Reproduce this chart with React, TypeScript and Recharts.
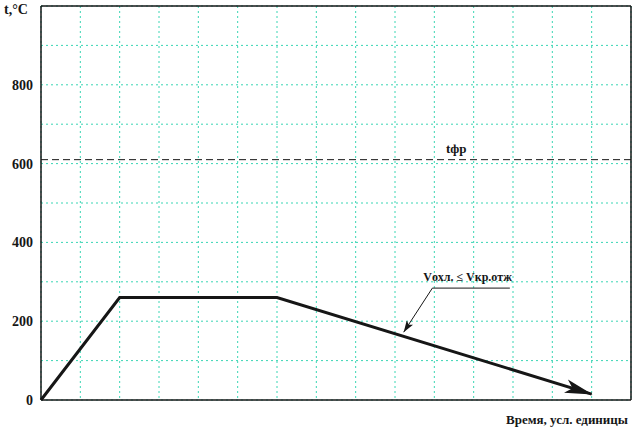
import React from "react";
import {
  LineChart,
  Line,
  XAxis,
  YAxis,
  CartesianGrid,
  ReferenceLine,
} from "recharts";

// режим отжига: время (усл. ед.) и температура, °C
const times = [0, 2, 6, 14];
const temps = [0, 260, 260, 15];
const xTicks = [0, 1, 2, 3, 4, 5, 6, 7, 8, 9, 10, 11, 12, 13, 14, 15];
const yTicks = [0, 100, 200, 300, 400, 500, 600, 700, 800, 900, 1000];
const yLabels = [0, 200, 400, 600, 800];
const tfr = 610;
// указатель к надписи «Vохл. ≤ Vкр.отж»
const pointerFrom = { x: 9.95, y: 284 };
const pointerTo = { x: 9.22, y: 172 };
const underlineEnd = { x: 11.92, y: 284 };

const data = times.map((t, i) => ({ t, temp: temps[i] }));

const INK = "#161616";
const GRID = "#3ad6b4";
const FONT = "Liberation Serif";

export default function App() {
  return (
    <div style={{ position: "absolute", left: 0, top: 0, fontFamily: FONT }}>
      <svg width={0} height={0} style={{ position: "absolute" }}>
        <defs>
          <marker
            id="bigArrow"
            markerUnits="userSpaceOnUse"
            markerWidth={28}
            markerHeight={16}
            viewBox="0 0 28 16"
            refX={27}
            refY={8}
            orient="auto"
          >
            <path d="M0,1 L28,8 L0,15 L7,8 z" fill={INK} />
          </marker>
          <marker
            id="smallArrow"
            markerUnits="userSpaceOnUse"
            markerWidth={12}
            markerHeight={8}
            viewBox="0 0 12 8"
            refX={12}
            refY={4}
            orient="auto"
          >
            <path d="M0,0 L12,4 L0,8 L3,4 z" fill={INK} />
          </marker>
        </defs>
      </svg>
      <LineChart
        width={633}
        height={427}
        data={data}
        margin={{ top: 6, right: 2, left: 0, bottom: 0 }}
        style={{ fontFamily: FONT }}
      >
        <CartesianGrid
          stroke={GRID}
          strokeDasharray="2 3"
          verticalValues={xTicks}
          horizontalValues={yTicks}
        />
        <XAxis
          dataKey="t"
          type="number"
          domain={[0, 15]}
          ticks={xTicks}
          tick={() => null}
          tickLine={false}
          height={27}
          axisLine={{ stroke: INK, strokeWidth: 1.5 }}
          label={{
            value: "Время, усл. единицы",
            position: "insideBottomRight",
            offset: 3,
            fill: INK,
            fontFamily: FONT,
            fontWeight: "bold",
            fontSize: 13,
          }}
        />
        <YAxis
          type="number"
          domain={[0, 1000]}
          ticks={yTicks}
          width={41}
          tickLine={false}
          axisLine={{ stroke: INK, strokeWidth: 1.5 }}
          tick={{ fill: INK, fontFamily: FONT, fontWeight: "bold", fontSize: 14 }}
          tickFormatter={(v) => (yLabels.includes(v) ? String(v) : "")}
          label={{
            value: "t,°C",
            position: "insideTopLeft",
            content: () => (
              <text x={4} y={14} fill={INK} fontFamily={FONT} fontWeight="bold" fontSize={14}>
                t,°C
              </text>
            ),
          }}
        />
        <ReferenceLine y={1000} stroke={INK} strokeWidth={1.5} />
        <ReferenceLine x={15} stroke={INK} strokeWidth={1.5} />
        <ReferenceLine
          y={tfr}
          stroke={INK}
          strokeWidth={1}
          strokeDasharray="7 4"
          label={{
            value: "tфр",
            position: "insideBottomLeft",
            dx: 400,
            dy: -2,
            fill: INK,
            fontFamily: FONT,
            fontWeight: "bold",
            fontSize: 13,
          }}
        />
        <ReferenceLine
          segment={[pointerFrom, underlineEnd]}
          stroke={INK}
          strokeWidth={1}
          label={{
            value: "Vохл. ≤ Vкр.отж",
            position: "insideBottomLeft",
            dx: -14,
            dy: -2,
            fill: INK,
            fontFamily: FONT,
            fontWeight: "bold",
            fontSize: 12,
          }}
        />
        <ReferenceLine
          segment={[pointerFrom, pointerTo]}
          stroke={INK}
          strokeWidth={1}
          markerEnd="url(#smallArrow)"
        />
        <Line
          type="linear"
          dataKey="temp"
          stroke={INK}
          strokeWidth={3}
          dot={false}
          activeDot={false}
          markerEnd="url(#bigArrow)"
          isAnimationActive={false}
        />
      </LineChart>
    </div>
  );
}
